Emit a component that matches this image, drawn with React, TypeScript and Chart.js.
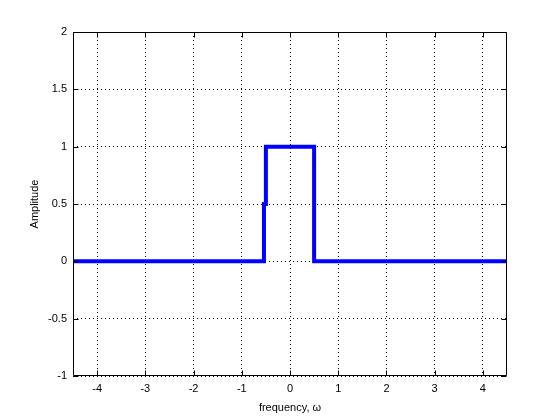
import React, { useEffect, useRef } from "react";
import { Chart, registerables } from "chart.js";

Chart.register(...registerables);

const xValues = [-4.5, -0.54, -0.54, -0.5, -0.5, 0.5, 0.5, 4.5];
const amplitude = [0, 0, 0.5, 0.5, 1, 1, 0, 0];
const xTickValues = [-4, -3, -2, -1, 0, 1, 2, 3, 4];
const yTickValues = [-1, -0.5, 0, 0.5, 1, 1.5, 2];
const xRange = [-4.5, 4.5];
const yRange = [-1, 2];
const xTitle = "frequency, ω";
const yTitle = "Amplitude";

const FONT = { family: "'Liberation Sans', Arial, Helvetica, sans-serif", size: 11 };

const boxPlugin = {
  id: "matlabBox",
  afterDraw(chart: any) {
    const { ctx, chartArea } = chart;
    const l = Math.round(chartArea.left) + 0.5;
    const r = Math.round(chartArea.right) - 0.5;
    const t = Math.round(chartArea.top) + 0.5;
    const b = Math.round(chartArea.bottom) - 0.5;
    ctx.save();
    ctx.setLineDash([]);
    ctx.strokeStyle = "#000";
    ctx.lineWidth = 1;
    ctx.beginPath();
    ctx.rect(l, t, r - l, b - t);
    const tl = 5;
    const xs = chart.scales.x;
    const ys = chart.scales.y;
    for (const v of xTickValues) {
      const px = Math.round(xs.getPixelForValue(v)) + 0.5;
      ctx.moveTo(px, b);
      ctx.lineTo(px, b - tl);
      ctx.moveTo(px, t);
      ctx.lineTo(px, t + tl);
    }
    for (const v of yTickValues) {
      const py = Math.round(ys.getPixelForValue(v)) + 0.5;
      ctx.moveTo(l, py);
      ctx.lineTo(l + tl, py);
      ctx.moveTo(r, py);
      ctx.lineTo(r - tl, py);
    }
    ctx.stroke();
    ctx.restore();
  },
};

export default function App() {
  const canvasRef = useRef<HTMLCanvasElement | null>(null);

  useEffect(() => {
    const canvas = canvasRef.current;
    if (!canvas) return;
    const chart = new Chart(canvas, {
      type: "scatter",
      data: {
        datasets: [
          {
            data: xValues.map((x, i) => ({ x, y: amplitude[i] })),
            showLine: true,
            borderColor: "#0000ff",
            backgroundColor: "#0000ff",
            borderWidth: 4,
            pointRadius: 0,
            borderJoinStyle: "miter",
            borderCapStyle: "butt",
            tension: 0,
          } as any,
        ],
      },
      options: {
        responsive: false,
        animation: false,
        layout: { padding: { left: 0, top: 32, right: 53, bottom: 0 } },
        plugins: { legend: { display: false }, tooltip: { enabled: false } },
        scales: {
          x: {
            type: "linear",
            min: xRange[0],
            max: xRange[1],
            afterBuildTicks: (s: any) => {
              s.ticks = xTickValues.map((v) => ({ value: v }));
            },
            afterFit: (s: any) => {
              s.height = 44;
            },
            grid: { color: "#000", lineWidth: 1, drawTicks: false },
            border: { display: false, dash: [1, 3] },
            ticks: {
              color: "#000",
              font: FONT,
              padding: 6,
              maxRotation: 0,
              callback: (v: any) => String(v),
            },
            title: {
              display: true,
              text: xTitle,
              color: "#000",
              font: FONT,
              padding: { top: 0, bottom: 5.4 },
            },
          },
          y: {
            type: "linear",
            min: yRange[0],
            max: yRange[1],
            afterBuildTicks: (s: any) => {
              s.ticks = yTickValues.map((v) => ({ value: v }));
            },
            afterFit: (s: any) => {
              s.width = 73;
            },
            grid: { color: "#000", lineWidth: 1, drawTicks: false },
            border: { display: false, dash: [1, 3] },
            ticks: {
              color: "#000",
              font: FONT,
              padding: 6,
              callback: (v: any) => String(v),
            },
            title: {
              display: true,
              text: yTitle,
              color: "#000",
              font: FONT,
              padding: { top: 28.4, bottom: 0 },
            },
          },
        },
      },
      plugins: [boxPlugin],
    });
    return () => chart.destroy();
  }, []);

  return (
    <div style={{ position: "absolute", left: 0, top: 0, width: 560, height: 420, background: "#fff" }}>
      <canvas ref={canvasRef} width={560} height={420} />
    </div>
  );
}
